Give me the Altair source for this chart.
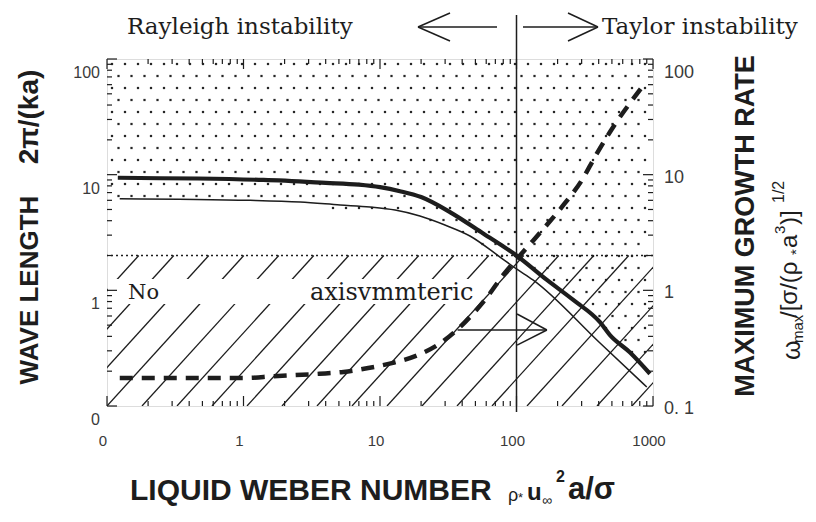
import altair as alt
import numpy as np
import pandas as pd

# ---------------- values ----------------
# thick solid curve: wave length of the fastest growing wave (left axis)
thick_we = [0.12, 1.4, 4.0, 7.0, 10, 14, 20, 33, 57, 100, 167, 259, 409, 484, 679, 950]
thick_wl = [9.4, 9.0, 8.5, 8.2, 7.8, 7.2, 6.4, 4.7, 3.1, 2.0, 1.23, 0.83, 0.53, 0.41, 0.29, 0.19]
# thin solid curve (left axis)
thin_we = [0.124, 1.12, 2.6, 5.1, 8.45, 12.9, 19.6, 29.9, 45.6, 75.7, 100, 132, 409, 900]
thin_wl = [6.2, 6.0, 5.8, 5.47, 5.25, 4.94, 4.39, 3.67, 2.95, 1.94, 1.53, 1.23, 0.35, 0.146]
# dashed curve: maximum growth rate (right axis)
dash_we = [0.124, 1.06, 1.64, 3.6, 5.4, 8.2, 12.2, 19, 28.4, 42, 61, 80, 115, 162, 227, 302, 375, 484, 830]
dash_gr = [0.175, 0.175, 0.181, 0.19, 0.197, 0.213, 0.235, 0.276, 0.357, 0.532, 0.876, 1.36,
           2.23, 3.53, 5.69, 9.0, 14.2, 23.4, 57]
level_line = [2.0]          # dotted horizontal boundary
split_we = [100]            # Rayleigh / Taylor boundary
arrow_shaft = {"x": [37], "x2": [167], "y": [0.454]}
arrow_head = {"x": [101, 101], "x2": [167, 167], "y": [0.624, 0.336], "y2": [0.454, 0.454]}
x_label_values = [0.1, 1, 10, 100, 1000]
x_label_text = ["0", "1", "10", "100", "1000"]
yl_label_values = [0.1, 1, 10, 100]
yl_label_text = ["0", "1", "10", "100"]
yr_label_values = [0.1, 1, 10]
yr_label_text = ["0. 1", "1", "10"]
yr_top_value = [100]
yr_top_text = ["100"]

# ---------------- layout ----------------
L, T, W, H = 107, 59, 546, 347
INK = "#1d1d1d"
LAB = "#3a3a3a"
SANS = "Liberation Sans, Arial, Helvetica, sans-serif"
SERIF = "DejaVu Serif, Century Schoolbook, serif"

xs = alt.Scale(type="log", domain=[0.1, 1000], nice=False)
ys = alt.Scale(type="log", domain=[0.1, 100], nice=False)


def X(f):
    return alt.X(f, type="quantitative", scale=xs, axis=None)


def Y(f):
    return alt.Y(f, type="quantitative", scale=ys, axis=None)


one = pd.DataFrame({"a": [0]})


def seg(x1, y1, x2, y2, w=1.5):
    return alt.Chart(one).mark_rule(color=INK, strokeWidth=w).encode(
        x=alt.value(x1 - L), y=alt.value(y1 - T), x2=alt.value(x2 - L), y2=alt.value(y2 - T))


def txt(s, x, y, size, font=SANS, weight="normal", angle=0, align="center", color=INK):
    kw = dict(text=s, fontSize=size, font=font, fontWeight=weight, align=align,
              baseline="middle", color=color)
    if angle:
        kw["angle"] = angle
    return alt.Chart(one).mark_text(**kw).encode(x=alt.value(x - L), y=alt.value(y - T))


def logi(xq, xp, yp):
    return 10 ** np.interp(np.log10(xq), np.log10(xp), np.log10(yp))


# ---------------- stipple texture (unstable region) ----------------
px_per_dec_x = W / 4.0
px_per_dec_y = H / 3.0
pts = []
for j in range(40):
    yy = 10 ** (2 - (5 + 12 * j) / px_per_dec_y)
    if yy <= 0.1:
        break
    off = 6.5 if j % 2 else 0
    for i in range(60):
        xp = 5 + 13 * i + off
        if xp > W - 3:
            break
        xx = 10 ** (-1 + xp / px_per_dec_x)
        bound = logi(xx, thin_we, thin_wl) * 0.93 if xx < 100 else logi(xx, thick_we, thick_wl)
        if yy > bound:
            pts.append((xx, yy))
stip = pd.DataFrame(pts, columns=["x", "y"])

# ---------------- hatch texture (no axisymmetric) ----------------
k = 1.1 * px_per_dec_x / px_per_dec_y
span = (level_line[0] / 0.1) ** (1 / k)
hx = 10 ** (-1 + np.arange(-5, 17) * 35 / px_per_dec_x)
hatch = pd.DataFrame({"x": hx, "y": 0.1, "x2": hx * span, "y2": level_line[0]})

# ---------------- layers ----------------
stipple = alt.Chart(stip).mark_square(size=5, color="#262626", opacity=1).encode(x=X("x"), y=Y("y"))
hatch_l = alt.Chart(hatch).mark_rule(color=INK, strokeWidth=1.3, clip=True).encode(
    x=X("x"), y=Y("y"), x2="x2", y2="y2")
band = alt.Chart(one).mark_rect(color="white").encode(
    x=alt.value(1), x2=alt.value(478 - L), y=alt.value(279 - T), y2=alt.value(304 - T))
dotted = alt.Chart(pd.DataFrame({"v": level_line})).mark_rule(
    color=INK, strokeWidth=1.5, strokeDash=[2, 3]).encode(y=Y("v"))
vline = alt.Chart(pd.DataFrame({"v": split_we})).mark_rule(color=INK, strokeWidth=1.5).encode(
    x=X("v"), y=alt.value(15 - T), y2=alt.value(412 - T))

thick = alt.Chart(pd.DataFrame({"we": thick_we, "wl": thick_wl})).mark_line(
    color=INK, strokeWidth=4.2, clip=True, interpolate="monotone").encode(x=X("we"), y=Y("wl"))
thin = alt.Chart(pd.DataFrame({"we": thin_we, "wl": thin_wl})).mark_line(
    color=INK, strokeWidth=1.5, clip=True, interpolate="monotone").encode(x=X("we"), y=Y("wl"))
dashed = alt.Chart(pd.DataFrame({"we": dash_we, "gr": dash_gr})).mark_line(
    color=INK, strokeWidth=4.5, strokeDash=[13, 9], clip=True, interpolate="monotone").encode(
    x=X("we"), y=Y("gr"))

shaft = alt.Chart(pd.DataFrame(arrow_shaft)).mark_rule(color=INK, strokeWidth=1.5).encode(
    x=X("x"), x2="x2", y=Y("y"))
head = alt.Chart(pd.DataFrame(arrow_head)).mark_rule(color=INK, strokeWidth=1.5).encode(
    x=X("x"), x2="x2", y=Y("y"), y2="y2")

# tick labels (placed through the scales)
xlab = alt.Chart(pd.DataFrame({"v": x_label_values, "t": x_label_text})).mark_text(
    font=SANS, fontSize=15, color=LAB, dx=-4, baseline="middle").encode(
    x=X("v"), y=alt.value(441 - T), text="t:N")
ylab_l = alt.Chart(pd.DataFrame({"v": yl_label_values, "t": yl_label_text})).mark_text(
    font=SANS, fontSize=16, color=LAB, dy=14, align="right", baseline="middle").encode(
    y=Y("v"), x=alt.value(100 - L), text="t:N")
ylab_r = alt.Chart(pd.DataFrame({"v": yr_label_values, "t": yr_label_text})).mark_text(
    font=SANS, fontSize=18, color=LAB, dy=3, align="left", baseline="middle").encode(
    y=Y("v"), x=alt.value(664 - L), text="t:N")
ylab_r_top = alt.Chart(pd.DataFrame({"v": yr_top_value, "t": yr_top_text})).mark_text(
    font=SANS, fontSize=18, color=LAB, dy=14, align="left", baseline="middle").encode(
    y=Y("v"), x=alt.value(664 - L), text="t:N")

# tick marks pointing inward
y_minor = [d * m for d in (0.1, 1, 10) for m in range(2, 10)]
y_major = [0.1, 1, 10, 100]
x_minor = [d * m for d in (0.1, 1, 10, 100) for m in range(2, 10)]
x_major = [0.1, 1, 10, 100, 1000]


def yticks(vals, length):
    d = pd.DataFrame({"v": vals})
    a = alt.Chart(d).mark_rule(color=INK, strokeWidth=1.2).encode(
        y=Y("v"), x=alt.value(0), x2=alt.value(length))
    b = alt.Chart(d).mark_rule(color=INK, strokeWidth=1.2).encode(
        y=Y("v"), x=alt.value(W), x2=alt.value(W - length))
    return [a, b]


def xticks(vals, length):
    d = pd.DataFrame({"v": vals})
    a = alt.Chart(d).mark_rule(color=INK, strokeWidth=1.2).encode(
        x=X("v"), y=alt.value(0), y2=alt.value(length))
    b = alt.Chart(d).mark_rule(color=INK, strokeWidth=1.2).encode(
        x=X("v"), y=alt.value(H), y2=alt.value(H - length))
    return [a, b]


ticks = yticks(y_minor, 5) + yticks(y_major, 10) + xticks(x_minor, 5) + xticks(x_major, 10)

texts = [
    txt("No", 128, 293, 21, font=SERIF, align="left"),
    txt("axisvmmteric", 310, 293, 24, font=SERIF, align="left"),
    txt("Rayleigh instability", 127, 27, 23, font=SERIF, align="left"),
    txt("Taylor instability", 602, 27, 23, font=SERIF, align="left"),
    # left title
    txt("WAVE LENGTH", 30, 290, 26, weight="bold", angle=270),
    txt("2\u03c0/(ka)", 30, 117, 28, weight="bold", angle=270),
    # right title
    txt("MAXIMUM GROWTH RATE", 746, 226, 27, weight="bold", angle=270),
    txt("\u03c9", 792, 360, 25, angle=270, align="left"),
    txt("max", 798, 343, 15, angle=270, align="left"),
    txt("/[\u03c3/(\u03c1", 790, 318, 24, angle=270, align="left"),
    txt("*", 796, 255, 15, angle=270, align="left"),
    txt("a", 790, 248, 24, angle=270, align="left"),
    txt("3", 780, 234, 15, angle=270, align="left"),
    txt(")]", 790, 225, 24, angle=270, align="left"),
    txt("1/2", 779, 203, 16, angle=270, align="left"),
    # bottom title
    txt("LIQUID WEBER NUMBER", 130, 491, 30, weight="bold", align="left"),
    txt("\u03c1", 508, 496, 18, align="left"),
    txt("*", 518, 498, 13, align="left"),
    txt("u", 527, 493, 24, weight="bold", align="left"),
    txt("\u221e", 542, 501, 14, align="left"),
    txt("2", 556, 477, 16, weight="bold", align="left"),
    txt("a/\u03c3", 568, 490, 31, weight="bold", align="left"),
]

arrows = [
    seg(418, 27, 497, 27), seg(418, 27, 450, 13), seg(418, 27, 450, 41),
    seg(523, 27, 598, 27), seg(598, 27, 568, 13), seg(598, 27, 568, 41),
]

chart = alt.layer(
    stipple, hatch_l, band, dotted, thin, thick, dashed, vline, shaft, head,
    xlab, ylab_l, ylab_r, ylab_r_top,
    *ticks, *texts, *arrows
).properties(
    width=W, height=H,
    padding={"left": L, "top": T, "right": 816 - L - W, "bottom": 522 - T - H},
    autosize=alt.AutoSizeParams(type="none"),
).configure_view(stroke=INK, strokeWidth=1.5).configure(background="white")

chart.save("out.html", embed_options={"renderer": "svg", "actions": False})
